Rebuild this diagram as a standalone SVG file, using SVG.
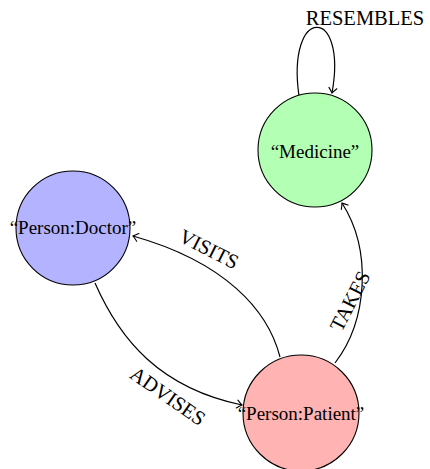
<svg xmlns="http://www.w3.org/2000/svg" width="430" height="469" viewBox="0 0 430 469">
<style>
.node{stroke:#000;stroke-width:1.1}
.lbl{font-family:"Liberation Serif","Times New Roman",serif;font-size:19px;fill:#000;text-anchor:middle;dominant-baseline:central}
.elbl{font-size:20.5px}
.edge{fill:none;stroke:#000;stroke-width:1.2;marker-end:url(#arr)}
</style>
<defs>
<marker id="arr" markerUnits="userSpaceOnUse" markerWidth="12" markerHeight="12" refX="0" refY="0" viewBox="-8 -6 10 12" orient="auto">
<path d="M -5 -4 Q -1.5 -1 0 0 Q -1.5 1 -5 4" fill="none" stroke="#000" stroke-width="1.1" stroke-linecap="round"/>
</marker>
</defs>
<rect width="430" height="469" fill="#fff"/>
<g id="edges">
<path class="edge" d="M 299 96 C 286 5, 348 5, 332 93"/>
<text class="lbl elbl" x="365" y="18">RESEMBLES</text>
<path class="edge" d="M 335 363 C 368 320, 372 250, 342 203"/>
<text class="lbl elbl" transform="translate(350 301) rotate(-63)">TAKES</text>
<path class="edge" d="M 280 357 C 268 310, 225 262, 133 236"/>
<text class="lbl elbl" transform="translate(209 249) rotate(27)">VISITS</text>
<path class="edge" d="M 95 283 C 120 340, 160 388, 242 405"/>
<text class="lbl elbl" transform="translate(168 396) rotate(35)">ADVISES</text>
</g>
<g id="medicine">
<circle class="node" cx="315" cy="150" r="57" fill="#b3ffb3"/>
<text class="lbl" x="315" y="151">“Medicine”</text>
</g>
<g id="doctor">
<circle class="node" cx="73" cy="228" r="57" fill="#b3b3ff"/>
<text class="lbl" x="73" y="227">“Person:Doctor”</text>
</g>
<g id="patient">
<circle class="node" cx="301" cy="413" r="58" fill="#ffb3b3"/>
<text class="lbl" x="301" y="413">“Person:Patient”</text>
</g>
</svg>
